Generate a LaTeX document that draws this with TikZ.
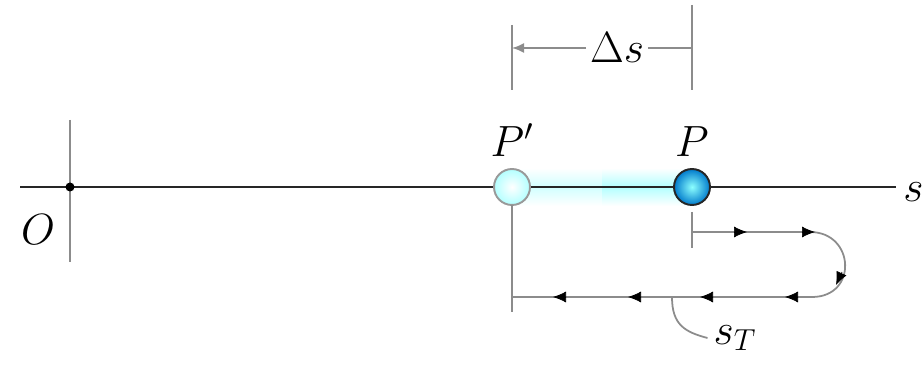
\documentclass[tikz,border=0pt]{standalone}
\usetikzlibrary{arrows.meta, positioning, calc}

\begin{document}
\begin{tikzpicture}[
  x=0.02cm, y=-0.02cm,
  font=\fontsize{26}{30}\selectfont,
  axis/.style={line width=1.2pt, black!85},
  tick/.style={line width=1pt, black!45},
  dim/.style={line width=1pt, black!45},
  arr/.style={-{Latex[length=2.4mm, width=2mm]}, line width=1pt, black!45},
  tipmark/.style={-{Latex[length=2.6mm, width=2.2mm]}, black},
  part/.style={circle, minimum size=0.72cm, inner sep=0pt, line width=1.1pt}
]
\useasboundingbox (0,0) rectangle (924,375);

% axis and origin
\coordinate (a0) at (20,187);
\coordinate (a1) at (896,187);
\draw[axis] (a0) -- (a1);
\node[anchor=west, inner sep=0pt] (s) at (903,192) {$s$};
\coordinate (o0) at (70,120);
\coordinate (o1) at (70,262);
\draw[tick] (o0) -- (o1);
\fill[black] (70,187) circle (4.5);
\node (O) at (38,230) {$O$};

% glow between the two positions
\shade[top color=white, bottom color=white, middle color=cyan!18] (512,168) rectangle (602,206);
\shade[top color=white, bottom color=white, middle color=cyan!30] (602,168) rectangle (692,206);
\draw[axis] (512,187) -- (692,187);

% particle positions
\node[part, draw=black!40, inner color=white, outer color=cyan!30] (Pp) at (512,187) {};
\node[part, draw=black!85, inner color=cyan!45, outer color=cyan!60!blue!80!black] (P) at (692,187) {};
\node[above=3pt of Pp] (Pplab) {$P'$};
\node[above=3pt of P] (Plab) {$P$};

% displacement
\coordinate (d0) at (512,25);
\coordinate (d1) at (512,90);
\coordinate (e0) at (692,5);
\coordinate (e1) at (692,90);
\draw[tick] (d0) -- (d1);
\draw[tick] (e0) -- (e1);
\node[fill=white, inner sep=2pt] (ds) at (617,48) {$\Delta s$};
\draw[arr] (ds.west) -- (512,48);
\draw[dim] (ds.east) -- (692,48);

% total distance travelled
\coordinate (t0) at (692,212);
\coordinate (t1) at (692,248);
\coordinate (u0) at (512,205);
\coordinate (u1) at (512,312);
\draw[tick] (t0) -- (t1);
\draw[tick] (u0) -- (u1);
\coordinate (c0) at (692,232);
\coordinate (c1) at (810,232);
\coordinate (c2) at (812,297);
\coordinate (c3) at (512,297);
\draw[dim] (c0) -- (c1) .. controls (855,232) and (858,297) .. (c2) -- (c3);
\foreach \x in {747,815} \draw[tipmark] (\x-12,232) -- (\x,232);
\foreach \x in {785,700,628,553} \draw[tipmark] (\x+12,297) -- (\x,297);
\draw[tipmark] (842,272) -- (836,285);

\node (sT) at (735,338) {$s_T$};
\draw[dim] (672,297) .. controls (672,325) and (685,332) .. (sT.west);
\end{tikzpicture}
\end{document}
